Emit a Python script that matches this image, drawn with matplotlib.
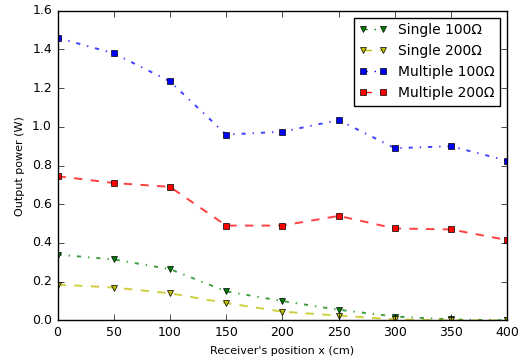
import matplotlib
matplotlib.use("Agg")
import matplotlib.pyplot as plt

# receiver positions (cm)
positions = [0, 50, 100, 150, 200, 250, 300, 350, 400]

single_100 = [0.34, 0.315, 0.265, 0.15, 0.10, 0.055, 0.02, 0.005, 0.0]
single_200 = [0.185, 0.17, 0.14, 0.09, 0.045, 0.025, 0.005, 0.0, 0.0]
multiple_100 = [1.46, 1.38, 1.235, 0.96, 0.975, 1.035, 0.89, 0.90, 0.825]
multiple_200 = [0.745, 0.71, 0.69, 0.49, 0.49, 0.54, 0.475, 0.47, 0.415]

plt.style.use("classic")
plt.rcParams["figure.facecolor"] = "white"
plt.rcParams["savefig.facecolor"] = "white"

fig, ax = plt.subplots(figsize=(5.23, 3.58), dpi=100)
fig.subplots_adjust(left=0.11, right=0.97, top=0.97, bottom=0.105)

series = [
    (single_100, "g", "-.", "v", "Single 100\u03a9"),
    (single_200, "y", "--", "v", "Single 200\u03a9"),
    (multiple_100, "b", "-.", "s", "Multiple 100\u03a9"),
    (multiple_200, "r", "--", "s", "Multiple 200\u03a9"),
]
for vals, c, ls, m, lab in series:
    ax.plot(positions, vals, color=c, linestyle=ls, linewidth=1.4, alpha=0.75)
    ax.plot(positions, vals, color=c, linestyle="none", marker=m, markersize=5)
    # proxy for legend
    ax.plot([], [], color=c, linestyle=ls, marker=m, markersize=5, label=lab)

ax.set_xlim(0, 400)
ax.set_ylim(0, 1.6)
ax.tick_params(labelsize=9)
ax.set_xlabel("Receiver's position x (cm)", fontsize=8)
ax.set_ylabel("Output power (W)", fontsize=8)
ax.legend(loc="upper right", fontsize=10, numpoints=2, handlelength=2.0)

plt.savefig("out.png", dpi=100)
